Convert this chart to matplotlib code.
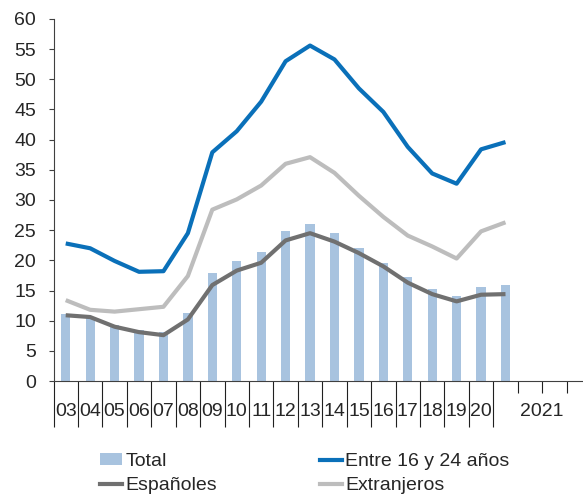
import matplotlib
matplotlib.use("Agg")
import matplotlib.pyplot as plt
from matplotlib.lines import Line2D
from matplotlib.patches import Patch

plt.rcParams['font.family'] = ['Liberation Sans', 'DejaVu Sans']

year_labels = ["03", "04", "05", "06", "07", "08", "09", "10", "11", "12",
               "13", "14", "15", "16", "17", "18", "19", "20"]
group_label = "2021"

total = [11.1, 10.6, 9.2, 8.5, 8.2, 11.3, 17.9, 19.9, 21.4, 24.8,
         26.1, 24.5, 22.0, 19.5, 17.3, 15.2, 14.1, 15.5, 15.9]
jovenes = [22.8, 22.0, 19.9, 18.1, 18.2, 24.5, 37.9, 41.4, 46.3, 53.0,
           55.6, 53.3, 48.5, 44.6, 38.8, 34.4, 32.7, 38.4, 39.6]
espanoles = [10.9, 10.6, 9.0, 8.1, 7.6, 10.2, 15.9, 18.3, 19.6, 23.3,
             24.5, 23.1, 21.2, 19.0, 16.3, 14.4, 13.2, 14.3, 14.4]
extranjeros = [13.4, 11.8, 11.5, 11.9, 12.3, 17.4, 28.4, 30.1, 32.4, 36.0,
               37.1, 34.5, 30.7, 27.2, 24.1, 22.3, 20.3, 24.8, 26.3]

n_slots = 22  # 18 annual + 4 quarters of 2021
x = [i + 0.5 for i in range(len(total))]

W, H = 583, 498
fig = plt.figure(figsize=(W / 100, H / 100), dpi=100)
ax = fig.add_axes([53.5 / W, 117 / H, (591 - 53.5) / W, (381 - 19) / H])

ax.bar(x, total, width=0.38, color='#A8C3DF', zorder=1)
ax.plot(x, jovenes, color='#0A70B9', lw=3.0, zorder=3, solid_capstyle='butt')
ax.plot(x, extranjeros, color='#BDBDBD', lw=3.0, zorder=2, solid_capstyle='butt')
ax.plot(x, espanoles, color='#707070', lw=3.0, zorder=3, solid_capstyle='butt')

ax.set_xlim(0, n_slots)
ax.set_ylim(0, 60)
ax.set_yticks(range(0, 61, 5))
ax.tick_params(axis='y', length=3.6, width=0.8, color='#404040', pad=9,
               labelsize=14, labelcolor='#262626')

for s in ['top', 'right']:
    ax.spines[s].set_visible(False)
for s in ['left', 'bottom']:
    ax.spines[s].set_color('#404040')
    ax.spines[s].set_linewidth(0.8)

ax.set_xticks(range(0, len(year_labels) + 1))
ax.set_xticklabels([])
ax.set_xticks(range(len(year_labels) + 1, n_slots + 1), minor=True)
ax.tick_params(axis='x', which='major', length=33, width=0.8, color='#202020')
ax.tick_params(axis='x', which='minor', length=8.6, width=0.8, color='#202020')

for i, lab in enumerate(year_labels):
    ax.text(i + 0.5, -5.0, lab, ha='center', va='center', fontsize=14,
            color='#262626', clip_on=False)
ax.text(len(year_labels) + 2.0, -5.0, group_label, ha='center', va='center',
        fontsize=14, color='#262626', clip_on=False)

handles = [Patch(facecolor='#A8C3DF', edgecolor='none'),
           Line2D([], [], color='#707070', lw=3),
           Line2D([], [], color='#0A70B9', lw=3),
           Line2D([], [], color='#BDBDBD', lw=3)]
labels = ["Total", "Españoles", "Entre 16 y 24 años", "Extranjeros"]
fig.legend(handles, labels, ncol=2, loc='upper left',
           bbox_to_anchor=(100 / W, 1 - 453 / H), frameon=False,
           fontsize=14, handlelength=1.15, handletextpad=0.15,
           columnspacing=5.3, labelspacing=0.38, borderpad=0,
           borderaxespad=0, handleheight=0.6, labelcolor='#262626')

fig.savefig("out.png", dpi=100)
